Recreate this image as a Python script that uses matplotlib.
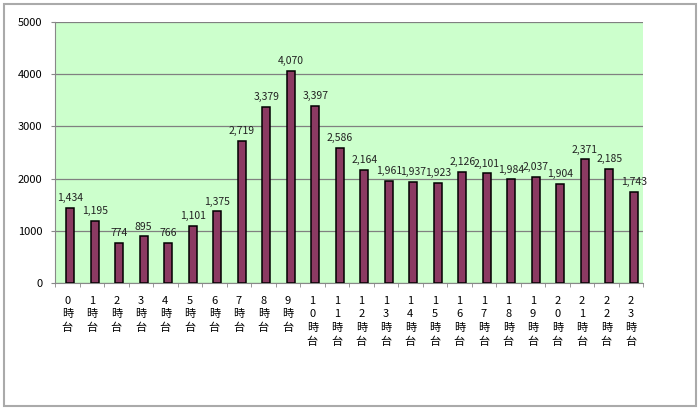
import numpy as np
import matplotlib.pyplot as plt
from matplotlib.patches import Rectangle
from matplotlib.ticker import MultipleLocator

plt.rcParams['font.family'] = ['Noto Sans CJK JP', 'DejaVu Sans']

hours = list(range(24))
counts = [1434, 1195, 774, 895, 766, 1101, 1375, 2719, 3379, 4070, 3397, 2586,
          2164, 1961, 1937, 1923, 2126, 2101, 1984, 2037, 1904, 2371, 2185, 1743]
# vertical labels: each character on its own line
xlabels = ["\n".join(list(str(h)) + ["時", "台"]) for h in hours]

fig = plt.figure(figsize=(7, 4.09), dpi=100)
ax = fig.add_axes([55/700, 1 - 283/409, (643 - 55)/700, (283 - 22)/409])
ax.set_facecolor('#CCFFCC')

x = np.arange(len(hours))
ax.bar(x + 0.12, counts, width=0.34, color='#8B3A62', edgecolor='black', linewidth=1.1, zorder=3)
for xi, v in zip(x, counts):
    ax.text(xi + 0.12, v + 90, f"{v:,}", ha='center', va='bottom', fontsize=7.5, color='#222222')

ax.set_xlim(-0.5, 23.5)
ax.set_ylim(0, 5000)
ax.yaxis.set_major_locator(MultipleLocator(1000))
ax.grid(axis='y', color='#808080', linewidth=0.9, zorder=1)

ax.set_xticks(x)
ax.set_xticklabels(xlabels, fontsize=8, linespacing=1.45, va='top')
ax.set_xticks(np.arange(-0.5, 24, 1), minor=True)
ax.tick_params(axis='x', which='major', length=0, pad=9)
ax.tick_params(axis='x', which='minor', length=3, color='#888888')
ax.tick_params(axis='y', length=3, color='#888888', labelsize=8, pad=6)

for s in ['top', 'right']:
    ax.spines[s].set_visible(False)
for s in ['left', 'bottom']:
    ax.spines[s].set_color('#888888')

fig.patches.append(Rectangle((4/700, 3/409), 692/700, 402/409, transform=fig.transFigure,
                             fill=False, edgecolor='#AAAAAA', linewidth=1.5))

fig.savefig('out.png', dpi=100)
